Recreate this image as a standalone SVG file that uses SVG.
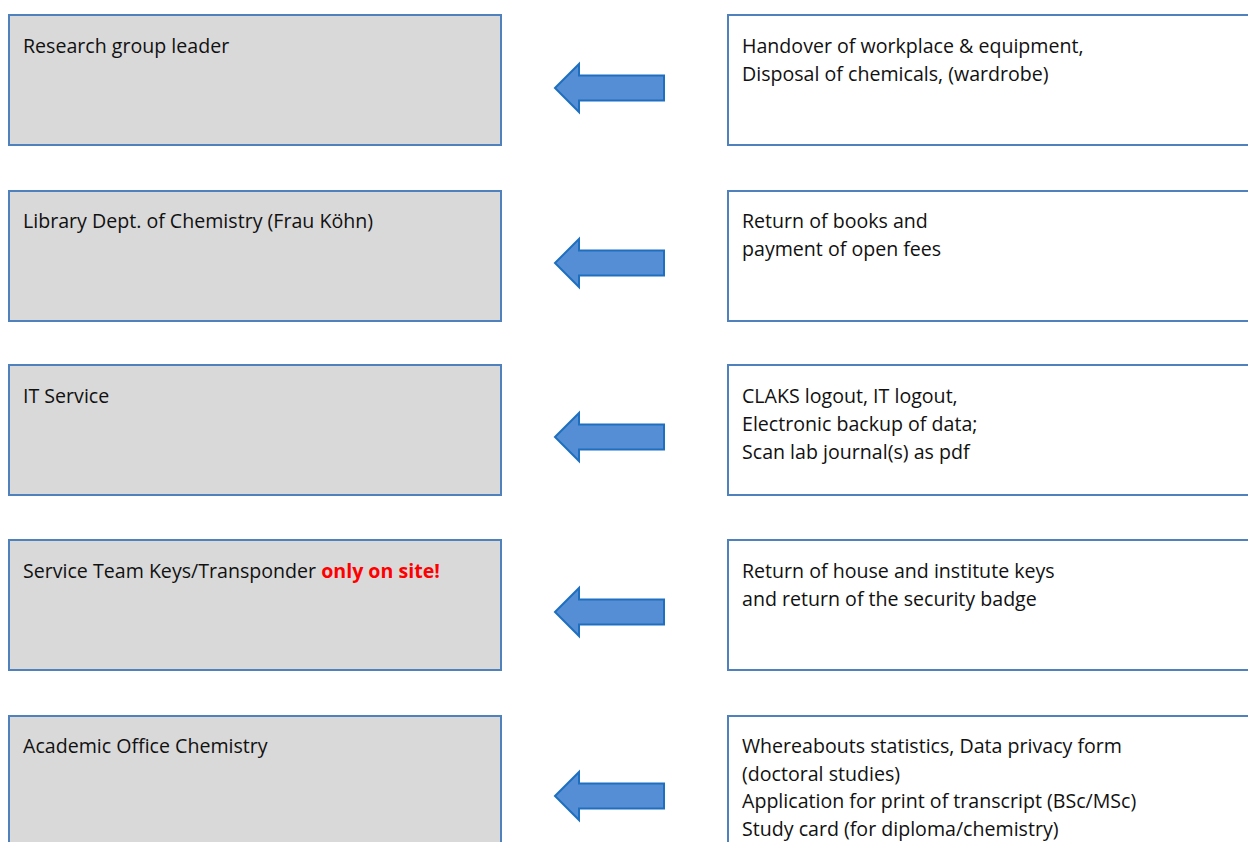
<svg xmlns="http://www.w3.org/2000/svg" width="1248" height="842" viewBox="0 0 1248 842">
<defs>
<style>
.src{fill:#D9D9D9;stroke:#4F81BD;stroke-width:2}
.dst{fill:#FFFFFF;stroke:#4F81BD;stroke-width:2}
.arr{fill:#558ED5;stroke:#1F6FC0;stroke-width:2;stroke-linejoin:miter}
text{font-family:"Open Sans","Liberation Sans",Arial,sans-serif;font-size:19.6px;fill:#111111}
.red{fill:#FF0000;font-weight:bold}
</style>
<path id="arrow" d="M0,0 L24,-24 L24,-12.5 L109,-12.5 L109,12.5 L24,12.5 L24,24 Z"/>
</defs>
<rect width="1248" height="842" fill="#FFFFFF"/>
<g id="connectors">
<use href="#arrow" class="arr" x="555" y="88"/>
<use href="#arrow" class="arr" x="555" y="263"/>
<use href="#arrow" class="arr" x="555" y="437"/>
<use href="#arrow" class="arr" x="555" y="612"/>
<use href="#arrow" class="arr" x="555" y="796"/>
</g>
<g id="n1"><rect class="src" x="9" y="15" width="492" height="130"/><text x="23" y="53">Research group leader</text></g>
<g id="n2"><rect class="src" x="9" y="191" width="492" height="130"/><text x="23" y="228">Library Dept. of Chemistry (Frau Köhn)</text></g>
<g id="n3"><rect class="src" x="9" y="365" width="492" height="130"/><text x="23" y="403">IT Service</text></g>
<g id="n4"><rect class="src" x="9" y="540" width="492" height="130"/><text x="23" y="578">Service Team Keys/Transponder <tspan class="red">only on site!</tspan></text></g>
<g id="n5"><rect class="src" x="9" y="716" width="492" height="140"/><text x="23" y="753">Academic Office Chemistry</text></g>
<g id="m1"><rect class="dst" x="728" y="15" width="540" height="130"/><text x="742" y="53">Handover of workplace &amp; equipment,</text><text x="742" y="81">Disposal of chemicals, (wardrobe)</text></g>
<g id="m2"><rect class="dst" x="728" y="191" width="540" height="130"/><text x="742" y="228">Return of books and</text><text x="742" y="256">payment of open fees</text></g>
<g id="m3"><rect class="dst" x="728" y="365" width="540" height="130"/><text x="742" y="403">CLAKS logout, IT logout,</text><text x="742" y="431">Electronic backup of data;</text><text x="742" y="459">Scan lab journal(s) as pdf</text></g>
<g id="m4"><rect class="dst" x="728" y="540" width="540" height="130"/><text x="742" y="578">Return of house and institute keys</text><text x="742" y="606">and return of the security badge</text></g>
<g id="m5"><rect class="dst" x="728" y="716" width="540" height="140"/><text x="742" y="753">Whereabouts statistics, Data privacy form</text><text x="742" y="781">(doctoral studies)</text><text x="742" y="808">Application for print of transcript (BSc/MSc)</text><text x="742" y="836">Study card (for diploma/chemistry)</text></g>
</svg>
